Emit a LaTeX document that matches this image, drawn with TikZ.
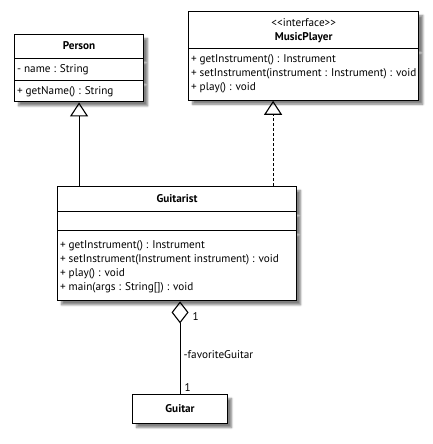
\documentclass[tikz,border=0pt]{standalone}
\usepackage{fontspec}
\setmainfont{PT Sans}
\usetikzlibrary{positioning,shapes.multipart,shadows.blur,arrows.meta}

\begin{document}
\begin{tikzpicture}
[x=1pt,y=-1pt,font=\fontsize{11.2}{14}\selectfont,
 umlbox/.style={draw,line width=1.1pt,fill=white,anchor=north west,
   inner xsep=2.5pt,inner ysep=3.5pt,
   blur shadow={shadow xshift=4pt,shadow yshift=-4pt,shadow opacity=50,
     shadow blur steps=6}},
 umlclass/.style={umlbox,rectangle split},
 inherit/.style={-{Triangle[open,width=18pt,length=14pt]},line width=1.1pt},
 realize/.style={inherit,dash pattern=on 3pt off 2pt},
 aggr/.style={-{Diamond[open,width=17pt,length=22pt]},line width=1.1pt},
 mult/.style={anchor=west,inner sep=1pt}]
\useasboundingbox (0,0) rectangle (432,444);
\node[umlclass,rectangle split parts=3,minimum width=129pt,
  rectangle split part align={center,left,left}] (person) at (14,34)
  {\textbf{Person}\rule[-5pt]{0pt}{16pt}\nodepart{second}- name : String\strut
   \nodepart{third}+ getName() : String\rule[-3.5pt]{0pt}{13pt}};
\node[umlclass,rectangle split parts=2,minimum width=225pt,
  rectangle split part align={center,left}] (player) at (188,11)
  {\begin{tabular}[b]{@{}c@{}}\rule{0pt}{11pt}{<}{<}interface{>}{>}\\
   \textbf{MusicPlayer}\end{tabular}%
   \nodepart{second}\begin{tabular}[b]{@{}l@{}}+ getInstrument() : Instrument\\
   + setInstrument(instrument : Instrument) : void\\+ play() : void\end{tabular}%
   \rule[-5.5pt]{0pt}{5.5pt}};
\node[umlclass,rectangle split parts=3,minimum width=239pt,
  rectangle split part align={center,left,left}] (guitarist) at (57,186)
  {\textbf{Guitarist}\rule[-5.2pt]{0pt}{17pt}\nodepart{second}\rule{0pt}{11pt}
   \nodepart{third}\begin{tabular}[b]{@{}l@{}}\rule{0pt}{13.2pt}+ getInstrument() : Instrument\\
   + setInstrument(Instrument instrument) : void\\+ play() : void\\
   + main(args : String[]) : void\end{tabular}\rule[-6.8pt]{0pt}{6.8pt}};
\node[umlbox,minimum width=95pt,minimum height=29pt] (guitar) at (132,394)
  {\textbf{Guitar}};
% relations
\coordinate (impl) at ([xshift=-24pt]guitarist.north east);
\draw[inherit] (guitarist.north -| person.south) -- (person.south);
\draw[realize] (impl) -- (impl |- player.south);
\draw[aggr] (guitar.north) --
  node[mult,pos=0.07,xshift=3pt] {1}
  node[mult,pos=0.43,xshift=2pt] {-favoriteGuitar}
  node[mult,pos=0.835,xshift=11pt] {1} (guitar.north |- guitarist.south);
\end{tikzpicture}
\end{document}
